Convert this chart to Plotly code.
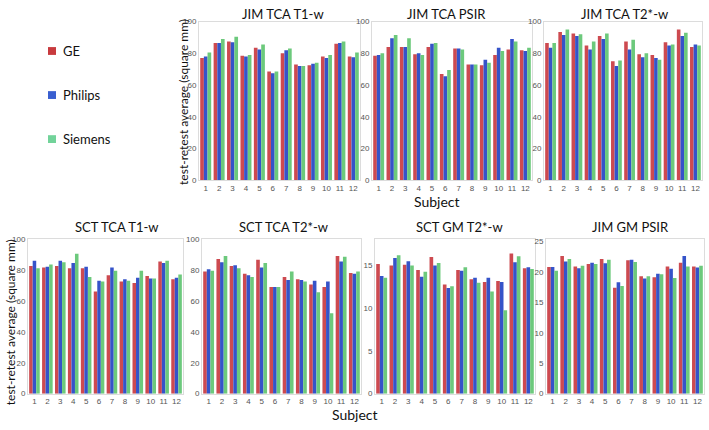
import plotly.graph_objects as go

subjects = list(range(1, 13))
vendors = ["GE", "Philips", "Siemens"]
colors = {"GE": "#cd4a50", "Philips": "#3553c9", "Siemens": "#6cc97c"}
legend_colors = {"GE": "#c83a3e", "Philips": "#3a5fd0", "Siemens": "#72d39a"}

panel_titles = ["JIM TCA T1-w", "JIM TCA PSIR", "JIM TCA T2*-w",
                "SCT TCA T1-w", "SCT TCA T2*-w", "SCT GM T2*-w", "JIM GM PSIR"]

jim_tca_t1_ge = [77, 86.5, 87.5, 78.5, 83.5, 68.5, 80, 73, 72.5, 78, 86, 78]
jim_tca_t1_ph = [78, 86.5, 87, 78, 82.5, 67.5, 82, 72, 73.5, 77, 86.5, 77.5]
jim_tca_t1_si = [80.5, 89, 90.5, 79, 85.5, 68.5, 83, 72, 74, 79, 87.5, 80.5]

jim_tca_psir_ge = [78.5, 84, 84, 79.5, 84, 67, 83, 73, 72.5, 79, 82.5, 82]
jim_tca_psir_ph = [79, 89.5, 84, 80, 86, 65.5, 83, 73, 76, 83.5, 89, 81.5]
jim_tca_psir_si = [80, 91.5, 89.5, 79, 86.5, 69.5, 82.5, 73, 74, 81.5, 87.5, 83.5]

jim_tca_t2_ge = [86.5, 93.5, 92.5, 85, 91, 75, 87.5, 79.5, 79, 87, 95, 84]
jim_tca_t2_ph = [83.5, 91.5, 91, 82.5, 89, 72, 82.5, 77.5, 77, 85, 91, 85.5]
jim_tca_t2_si = [86.5, 95, 92, 87.5, 92.5, 75.5, 88.5, 80, 76, 85.5, 93, 85]

sct_tca_t1_ge = [82.5, 81.5, 82.5, 81, 81, 66, 76.5, 72.5, 71.5, 76, 85.5, 74]
sct_tca_t1_ph = [86, 82, 86, 84.5, 82, 73, 81.5, 74, 75, 74.5, 84.5, 75]
sct_tca_t1_si = [81, 83.5, 85, 90.5, 75.5, 72.5, 79.5, 73, 79.5, 74.5, 86, 77]

sct_tca_t2_ge = [79, 87, 82.5, 77.5, 86.5, 69, 75.5, 74, 70.5, 69, 89, 78]
sct_tca_t2_ph = [80.5, 85, 83, 76.5, 81.5, 69, 73.5, 73.5, 73, 72.5, 85.5, 77.5]
sct_tca_t2_si = [79.5, 89, 81, 75.5, 84.5, 69, 79, 72.5, 65.5, 52, 88.5, 79]

sct_gm_t2_ge = [15.1, 14.9, 15.0, 14.4, 15.9, 12.7, 14.4, 13.3, 13.0, 13.1, 16.3, 14.6]
sct_gm_t2_ph = [13.7, 15.8, 15.4, 13.6, 14.9, 12.3, 14.3, 13.5, 13.5, 13.0, 15.3, 14.7]
sct_gm_t2_si = [13.5, 16.1, 14.9, 14.2, 15.2, 12.5, 14.7, 12.9, 11.9, 9.7, 16.0, 14.5]

jim_gm_psir_ge = [20.8, 22.6, 20.9, 21.3, 22.1, 17.4, 21.9, 19.3, 19.1, 20.9, 21.5, 20.9]
jim_gm_psir_ph = [20.8, 21.7, 20.6, 21.5, 21.4, 18.3, 22.0, 18.9, 19.7, 20.5, 22.6, 20.7]
jim_gm_psir_si = [20.2, 22.1, 21.0, 21.3, 22.0, 17.7, 21.6, 19.3, 19.6, 19.0, 20.9, 21.0]

panels = [
    (jim_tca_t1_ge, jim_tca_t1_ph, jim_tca_t1_si),
    (jim_tca_psir_ge, jim_tca_psir_ph, jim_tca_psir_si),
    (jim_tca_t2_ge, jim_tca_t2_ph, jim_tca_t2_si),
    (sct_tca_t1_ge, sct_tca_t1_ph, sct_tca_t1_si),
    (sct_tca_t2_ge, sct_tca_t2_ph, sct_tca_t2_si),
    (sct_gm_t2_ge, sct_gm_t2_ph, sct_gm_t2_si),
    (jim_gm_psir_ge, jim_gm_psir_ph, jim_gm_psir_si),
]
y_ranges = [[0, 100], [0, 100], [0, 100], [0, 100], [0, 100], [0, 18], [0, 25.4]]
y_ticks = [[0, 20, 40, 60, 80, 100]] * 5 + [[0, 5, 10, 15], [0, 5, 10, 15, 20, 25]]

W, H = 709, 430
# pixel boxes (x0, x1, ytop, ybottom)
boxes = [
    (199, 360, 18, 180), (372, 532, 18, 180), (544, 702, 18, 180),
    (28, 183, 240, 398), (202, 361, 240, 398), (375, 535, 240, 398), (546, 704, 240, 398),
]
title_pos = [(283, 10), (446, 10), (624, 10), (116, 228), (283, 228), (459, 228), (630, 228)]

fig = go.Figure()
layout = {}
annotations = []
for i, (vals, box) in enumerate(zip(panels, boxes)):
    n = i + 1
    xa = "x" if n == 1 else f"x{n}"
    ya = "y" if n == 1 else f"y{n}"
    for v, data in zip(vendors, vals):
        fig.add_trace(go.Bar(x=subjects, y=data, name=v, marker_color=colors[v],
                             marker_line_width=0, xaxis=xa, yaxis=ya, showlegend=False))
    x0, x1, yt, yb = box
    axcommon = dict(showline=True, mirror=True, linecolor="#dcdcdc", linewidth=1,
                    ticks="", showgrid=False, zeroline=False,
                    tickfont=dict(size=8, color="#555", family="Liberation Sans"))
    layout[f"xaxis{n if n > 1 else ''}"] = dict(
        domain=[x0 / W, x1 / W], anchor=ya, range=[0.5, 12.5],
        tickmode="array", tickvals=subjects, ticktext=[str(s) for s in subjects],
        **axcommon)
    layout[f"yaxis{n if n > 1 else ''}"] = dict(
        domain=[1 - yb / H, 1 - yt / H], anchor=xa, range=y_ranges[i],
        tickmode="array", tickvals=y_ticks[i], **axcommon)
    tx, ty = title_pos[i]
    annotations.append(dict(text=panel_titles[i], x=tx / W, y=1 - ty / H, xref="paper", yref="paper",
                            showarrow=False, xanchor="center", yanchor="middle",
                            font=dict(size=13, family="Lato", color="#111")))

# y-axis titles
annotations.append(dict(text="test-retest average (square mm)", x=184 / W, y=1 - 100 / H,
                        xref="paper", yref="paper", showarrow=False, textangle=-90,
                        xanchor="center", yanchor="middle", font=dict(size=12, family="Lato", color="#111")))
annotations.append(dict(text="test-retest average (square mm)", x=10 / W, y=1 - 325 / H,
                        xref="paper", yref="paper", showarrow=False, textangle=-90,
                        xanchor="center", yanchor="middle", font=dict(size=12, family="Lato", color="#111")))
# x-axis titles
annotations.append(dict(text="Subject", x=437 / W, y=1 - 202 / H, xref="paper", yref="paper",
                        showarrow=False, xanchor="center", yanchor="middle",
                        font=dict(size=14, family="Lato", color="#111")))
annotations.append(dict(text="Subject", x=355 / W, y=1 - 419 / H, xref="paper", yref="paper",
                        showarrow=False, xanchor="center", yanchor="middle",
                        font=dict(size=14, family="Lato", color="#111")))

# legend
legend_y = [48, 93, 138]
for v, ly in zip(vendors, legend_y):
    annotations.append(dict(text=v, x=61 / W, y=1 - ly / H, xref="paper", yref="paper",
                            showarrow=False, xanchor="left", yanchor="middle",
                            font=dict(size=13, family="Lato", color="#111")))

shapes = []
for v, ly in zip(vendors, legend_y):
    shapes.append(dict(type="rect", xref="paper", yref="paper",
                       x0=48 / W, x1=56 / W, y0=1 - (ly + 4) / H, y1=1 - (ly - 4) / H,
                       fillcolor=legend_colors[v], line=dict(width=0)))

fig.update_layout(
    width=W, height=H, margin=dict(l=0, r=0, t=0, b=0),
    paper_bgcolor="white", plot_bgcolor="white",
    barmode="group", bargap=0.18, bargroupgap=0,
    annotations=annotations, shapes=shapes, **layout)

fig.write_html("out.html", config={"displayModeBar": False},
               post_script="document.body.style.margin='0';document.body.style.overflow='hidden';")
